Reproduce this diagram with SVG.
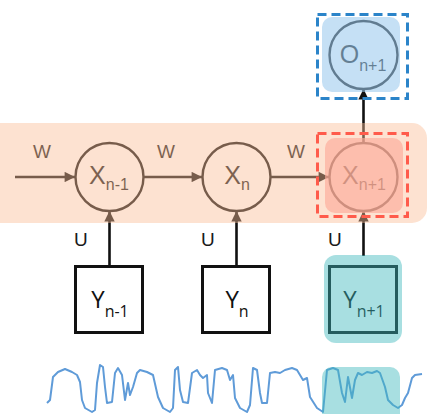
<svg xmlns="http://www.w3.org/2000/svg" width="433" height="414" viewBox="0 0 433 414">
<defs>
<style>
.ln{stroke:#111;stroke-width:2.6;fill:none}
.circ{stroke:#111;stroke-width:2.4;fill:none}
.box{stroke:#111;stroke-width:3;fill:#fff}
.lbl{font-family:"Liberation Sans",Arial,sans-serif;font-size:19px;fill:#1a1a1a}
.xl{font-family:"Liberation Sans",Arial,sans-serif;font-size:25px;fill:#1a1a1a;text-anchor:middle}
.yl{font-family:"Open Sans","Liberation Sans",sans-serif;font-size:24px;fill:#111;text-anchor:middle}
.sub{font-size:16px}
.teal{fill:#3eb8bc;opacity:0.45}
</style>
<marker id="ah" viewBox="0 0 10 10" refX="10" refY="5" markerWidth="4.4" markerHeight="4" orient="auto" markerUnits="strokeWidth">
<path d="M0,0 L10,5 L0,10 z" fill="#111"/>
</marker>
</defs>
<rect width="433" height="414" fill="#fff"/>

<g id="waveform">
<path fill="none" stroke="#5f9bd8" stroke-width="2" stroke-linejoin="round" d="M47,403 L50,400 L53,377 L58,372 L65,369 L72,372 L77,375 L80,382 L82,400 L85,408 L92,412 L95,410 L97,383 L100,365 L103,367 L105,387 L107,403 L112,402 L115,373 L118,368 L122,375 L125,400 L128,383 L130,395 L133,387 L137,373 L140,370 L147,372 L153,375 L158,397 L163,408 L170,412 L173,408 L175,370 L178,367 L180,390 L183,402 L188,403 L192,373 L197,370 L200,375 L203,378 L207,375 L208,393 L212,403 L215,370 L222,368 L227,370 L230,380 L233,375 L235,398 L240,408 L247,412 L250,405 L253,368 L257,370 L260,393 L262,403 L267,403 L270,373 L275,372 L280,373 L285,370 L292,368 L297,370 L300,375 L303,380 L307,378 L310,397 L317,408 L323,412 L327,370 L333,368 L338,370 L342,393 L345,402 L348,377 L352,398 L355,380 L358,373 L362,375 L367,372 L372,373 L377,371 L380,373 L385,387 L388,400 L393,405 L398,408 L402,405 L405,398 L408,393 L412,378 L415,375 L422,374"/>
<rect class="teal" x="322" y="367" width="78" height="60" rx="10"/>
</g>

<g id="connectors">
<line class="ln" x1="15" y1="177" x2="75" y2="177" marker-end="url(#ah)"/>
<line class="ln" x1="143" y1="177" x2="202" y2="177" marker-end="url(#ah)"/>
<line class="ln" x1="270" y1="177" x2="329" y2="177" marker-end="url(#ah)"/>
<line class="ln" x1="109.5" y1="266" x2="109.5" y2="211" marker-end="url(#ah)"/>
<line class="ln" x1="236.5" y1="266" x2="236.5" y2="211" marker-end="url(#ah)"/>
<line class="ln" x1="363.5" y1="256" x2="363.5" y2="211" marker-end="url(#ah)"/>
<line class="ln" x1="363.5" y1="143" x2="363.5" y2="89" marker-end="url(#ah)"/>
<text class="lbl" x="33" y="158">W</text>
<text class="lbl" x="157" y="158">W</text>
<text class="lbl" x="287" y="158">W</text>
<text class="lbl" x="74" y="246">U</text>
<text class="lbl" x="201" y="246">U</text>
<text class="lbl" x="328" y="246">U</text>
</g>

<g id="x-n-1">
<circle class="circ" cx="109.5" cy="177" r="34"/>
<text class="xl" x="109" y="184">X<tspan class="sub" dy="6">n-1</tspan></text>
</g>
<g id="x-n">
<circle class="circ" cx="236.5" cy="177" r="34"/>
<text class="xl" x="237" y="184">X<tspan class="sub" dy="6">n</tspan></text>
</g>
<g id="x-n+1">
<circle class="circ" cx="363.5" cy="177" r="34"/>
<text class="xl" x="364" y="184">X<tspan class="sub" dy="6">n+1</tspan></text>
</g>

<g id="hidden-band">
<path d="M0,123 H412 A15,15 0 0 1 427,138 V208 A15,15 0 0 1 412,223 H0 Z" fill="#fabe97" opacity="0.44"/>
</g>

<g id="highlight-x">
<rect x="325" y="138" width="78" height="75" rx="10" fill="#fdab9a" opacity="0.65"/>
<rect x="317.5" y="133.5" width="90" height="83" fill="none" stroke="#ff5b4b" stroke-width="3" stroke-dasharray="9 5"/>
</g>

<g id="o-n+1">
<circle class="circ" cx="363.5" cy="55" r="34"/>
<text class="xl" x="363" y="63">O<tspan class="sub" dy="8">n+1</tspan></text>
<rect x="322" y="17" width="78" height="75" rx="10" fill="#9bcaee" opacity="0.58"/>
<rect x="317.5" y="14.5" width="90" height="84" fill="none" stroke="#2b84c9" stroke-width="3" stroke-dasharray="9 5"/>
</g>

<g id="y-n-1">
<rect class="box" x="75.5" y="266.5" width="67" height="66"/>
<text class="yl" x="110" y="308">Y<tspan class="sub" dy="9">n-1</tspan></text>
</g>
<g id="y-n">
<rect class="box" x="202.5" y="266.5" width="67" height="66"/>
<text class="yl" x="237" y="308">Y<tspan class="sub" dy="9">n</tspan></text>
</g>
<g id="y-n+1">
<rect class="box" x="329.5" y="266.5" width="67" height="66"/>
<text class="yl" x="364" y="308">Y<tspan class="sub" dy="9">n+1</tspan></text>
<rect class="teal" x="324" y="255" width="78" height="88" rx="12"/>
</g>
</svg>
